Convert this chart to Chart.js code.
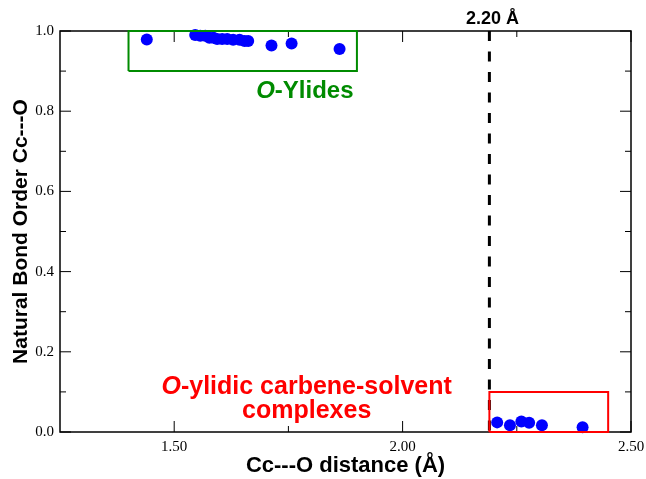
<!DOCTYPE html>
<html lang="en">
<head>
  <meta charset="UTF-8">
  <title>Natural Bond Order vs Cc---O distance</title>
  <script src="https://cdn.jsdelivr.net/npm/chart.js"></script>
  <style>
    html, body { margin: 0; padding: 0; background: #fff; }
  </style>
</head>
<body>
  <canvas id="nboChart" width="646" height="479"></canvas>

  <script>
    // O-ylide structures (distance in Å, bond order)
    const ylideDist  = [1.440, 1.546, 1.557, 1.568, 1.577, 1.586, 1.594, 1.605, 1.616, 1.629, 1.643, 1.654, 1.662, 1.713, 1.757, 1.862];
    const ylideOrder = [0.979, 0.990, 0.988, 0.988, 0.983, 0.983, 0.980, 0.980, 0.980, 0.978, 0.978, 0.975, 0.975, 0.964, 0.969, 0.955];

    // O-ylidic carbene-solvent complexes
    const complexDist  = [2.207, 2.235, 2.260, 2.277, 2.305, 2.394];
    const complexOrder = [0.024, 0.017, 0.026, 0.023, 0.017, 0.012];

    const xTicks = [1.5, 2.0, 2.5];
    const xTickLabels = ['1.50', '2.00', '2.50'];
    const xMinor = [1.75, 2.25];
    const yTicks = [0, 0.2, 0.4, 0.6, 0.8, 1.0];
    const yTickLabels = ['0.0', '0.2', '0.4', '0.6', '0.8', '1.0'];
    const yMinor = [0.1, 0.3, 0.5, 0.7, 0.9];

    const cutoff = 2.19;
    const cutoffLabel = '2.20 Å';
    const ylideBoxX = [1.40, 1.90];
    const ylideBoxY = [0.90, 1.00];
    const complexBoxX = [cutoff, 2.45];
    const complexBoxY = [0.00, 0.10];

    const GREEN = '#008b00';
    const RED = '#ff0000';
    const SANS = '"Liberation Sans", Arial, Helvetica, sans-serif';
    const SERIF = '"Liberation Serif", "Times New Roman", serif';

    function boxPath(bx, by) {
      return [
        {x: bx[0], y: by[0]}, {x: bx[1], y: by[0]}, {x: bx[1], y: by[1]},
        {x: bx[0], y: by[1]}, {x: bx[0], y: by[0]}
      ];
    }

    function toPoints(xs, ys) {
      return xs.map((v, i) => ({x: v, y: ys[i]}));
    }

    // frame with inward ticks on all four sides
    const framePlugin = {
      id: 'frame',
      beforeDatasetsDraw(chart) {
        const {ctx, chartArea: a, scales: {x, y}} = chart;
        ctx.save();
        ctx.strokeStyle = '#000';
        ctx.lineWidth = 1;
        const xt = (v, len) => {
          const px = x.getPixelForValue(v);
          ctx.beginPath();
          ctx.moveTo(px, a.bottom); ctx.lineTo(px, a.bottom - len);
          ctx.moveTo(px, a.top); ctx.lineTo(px, a.top + len);
          ctx.stroke();
        };
        const yt = (v, len) => {
          const py = y.getPixelForValue(v);
          ctx.beginPath();
          ctx.moveTo(a.left, py); ctx.lineTo(a.left + len, py);
          ctx.moveTo(a.right, py); ctx.lineTo(a.right - len, py);
          ctx.stroke();
        };
        xTicks.forEach(v => xt(v, 11));
        xMinor.forEach(v => xt(v, 6));
        yTicks.forEach(v => yt(v, 11));
        yMinor.forEach(v => yt(v, 6));
        ctx.lineWidth = 1.5;
        ctx.strokeRect(a.left, a.top, a.right - a.left, a.bottom - a.top);
        ctx.restore();
      }
    };

    function drawRich(ctx, parts, cx, cy, size, color) {
      const fonts = parts.map(p => (p.italic ? 'italic ' : '') + 'bold ' + size + 'px ' + SANS);
      let w = 0;
      parts.forEach((p, i) => { ctx.font = fonts[i]; w += ctx.measureText(p.text).width; });
      let xPos = cx - w / 2;
      ctx.fillStyle = color;
      ctx.textAlign = 'left';
      ctx.textBaseline = 'middle';
      parts.forEach((p, i) => {
        ctx.font = fonts[i];
        ctx.fillText(p.text, xPos, cy);
        xPos += ctx.measureText(p.text).width;
      });
    }

    const labelPlugin = {
      id: 'labels',
      afterDraw(chart) {
        const {ctx, chartArea: a, scales: {x, y}} = chart;
        ctx.save();
        drawRich(ctx, [{text: cutoffLabel}], x.getPixelForValue(cutoff) + 3, a.top - 12, 18, '#000');
        drawRich(ctx, [{text: 'O', italic: true}, {text: '-Ylides'}],
          x.getPixelForValue(1.786), y.getPixelForValue(0.850), 24, GREEN);
        drawRich(ctx, [{text: 'O', italic: true}, {text: '-ylidic carbene-solvent'}],
          x.getPixelForValue(1.790), y.getPixelForValue(0.113), 25, RED);
        drawRich(ctx, [{text: 'complexes'}],
          x.getPixelForValue(1.790), y.getPixelForValue(0.051), 25, RED);
        ctx.restore();
      }
    };

    new Chart(document.getElementById('nboChart').getContext('2d'), {
      type: 'scatter',
      data: {
        datasets: [
          {
            label: 'O-Ylides',
            data: toPoints(ylideDist, ylideOrder),
            backgroundColor: '#0000ff',
            borderWidth: 0,
            pointRadius: 6,
            clip: false,
            order: 2
          },
          {
            label: 'Complexes',
            data: toPoints(complexDist, complexOrder),
            backgroundColor: '#0000ff',
            borderWidth: 0,
            pointRadius: 6,
            clip: false,
            order: 2
          },
          {
            type: 'line',
            label: 'ylide box',
            data: boxPath(ylideBoxX, ylideBoxY),
            borderColor: GREEN,
            borderWidth: 2,
            pointRadius: 0,
            fill: false,
            clip: false,
            order: 1
          },
          {
            type: 'line',
            label: 'complex box',
            data: boxPath(complexBoxX, complexBoxY),
            borderColor: RED,
            borderWidth: 2,
            pointRadius: 0,
            fill: false,
            clip: false,
            order: 1
          },
          {
            type: 'line',
            label: 'cutoff',
            data: [{x: cutoff, y: 1}, {x: cutoff, y: 0}],
            borderColor: '#000',
            borderWidth: 3,
            borderDash: [10, 10.5],
            pointRadius: 0,
            fill: false,
            order: 1
          }
        ]
      },
      options: {
        responsive: false,
        animation: false,
        layout: { padding: { top: 31, right: 15, left: 0, bottom: 0 } },
        plugins: {
          legend: { display: false },
          tooltip: { enabled: false }
        },
        scales: {
          x: {
            type: 'linear',
            min: 1.25,
            max: 2.5,
            afterBuildTicks: s => { s.ticks = xTicks.map(v => ({value: v})); },
            afterFit: s => { s.height = 47; s.paddingRight = 0; s.paddingLeft = 0; },
            grid: { display: false, drawTicks: false },
            border: { display: false },
            ticks: {
              padding: 6,
              color: '#000',
              font: { family: SERIF, size: 15 },
              callback: v => xTickLabels[xTicks.indexOf(v)]
            },
            title: {
              display: true,
              text: 'Cc---O distance (Å)',
              color: '#000',
              font: { family: SANS, size: 22, weight: 'bold' },
              padding: { top: 0, bottom: 0 }
            }
          },
          y: {
            type: 'linear',
            min: 0,
            max: 1,
            afterBuildTicks: s => { s.ticks = yTicks.map(v => ({value: v})); },
            afterFit: s => { s.width = 60; },
            grid: { display: false, drawTicks: false },
            border: { display: false },
            ticks: {
              padding: 6,
              color: '#000',
              font: { family: SERIF, size: 15 },
              callback: v => yTickLabels[yTicks.indexOf(v)]
            },
            title: {
              display: true,
              text: 'Natural Bond Order Cc---O',
              color: '#000',
              font: { family: SANS, size: 21, weight: 'bold' },
              padding: { top: 9, bottom: 0 }
            }
          }
        }
      },
      plugins: [framePlugin, labelPlugin]
    });
  </script>
</body>
</html>
